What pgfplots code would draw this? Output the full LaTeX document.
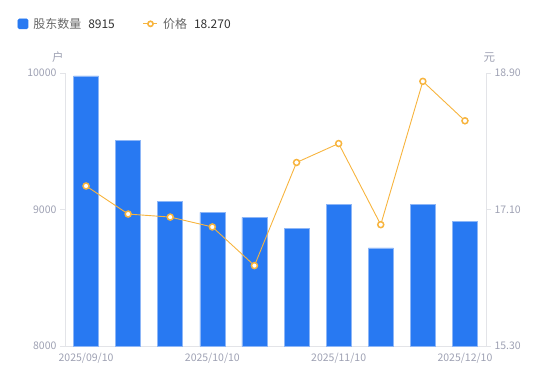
\documentclass[border=0pt]{standalone}
\usepackage{pgfplots}
\pgfplotsset{compat=1.18}
\usepackage{fontspec}
\setmainfont{Noto Sans CJK SC}
\definecolor{barblue}{HTML}{2879F2}
\definecolor{baredge}{HTML}{8DB6F7}
\definecolor{lineorange}{HTML}{F7B43E}
\definecolor{tickgray}{HTML}{9EA1B3}
\definecolor{axisgray}{HTML}{E3E4E8}
\definecolor{legname}{HTML}{666666}
\definecolor{legval}{HTML}{333333}
\begin{document}
\begin{tikzpicture}
\path[use as bounding box] (0,0) rectangle (550bp,381bp);
\pgfplotsset{
  common/.style={
    at={(65bp,35bp)}, anchor=south west,
    scale only axis, width=421bp, height=273bp,
    xmin=-0.5, xmax=9.5,
    axis line style={draw=axisgray, line width=0.8bp},
    tick align=outside, major tick length=5bp,
    ytick style={draw=axisgray, line width=0.8bp},
    xtick style={draw=none},
    scaled ticks=false,
    tick label style={font=\fontsize{10.5bp}{12bp}\selectfont, text=tickgray},
    /pgf/number format/assume math mode=true,
    clip=false,
  }
}
\begin{axis}[common,
  axis y line*=left, axis x line*=bottom,
  ymin=8000, ymax=10000, ytick={8000,9000,10000},
  yticklabel style={/pgf/number format/1000 sep={}},
  xtick={0,3,6,9},
  xticklabels={2025/09/10,2025/10/10,2025/11/10,2025/12/10},
  xticklabel style={yshift=1bp},
  legend style={at={(-0.12,1.18)}, anchor=west, draw=none, fill=none,
    font=\fontsize{12bp}{14bp}\selectfont, text=legname,
    legend columns=2,
    /tikz/every even column/.append style={column sep=26bp},
    /tikz/every odd column/.append style={column sep=3bp},
    legend cell align=left},
]
\addplot[ybar, bar width=25bp, fill=barblue, draw=baredge, line width=0.6bp,
  legend image code/.code={\fill[barblue, rounded corners=1.5bp] (0bp,-5bp) rectangle (10bp,5bp);}]
  coordinates {(0,9978) (1,9507) (2,9062) (3,8979) (4,8943) (5,8864) (6,9040) (7,8718) (8,9038) (9,8915)};
\addlegendentry{股东数量\hspace{7bp}{\color{legval}8915}}
\addlegendimage{legend image code/.code={\draw[lineorange, line width=1.2bp] (0bp,0bp) -- (14bp,0bp); \draw[lineorange, fill=white, line width=1.6bp] (7bp,0bp) circle (2.6bp);}}
\addlegendentry{价格\hspace{7bp}{\color{legval}18.270}}
\node[font=\fontsize{11.5bp}{13bp}\selectfont, text=tickgray] at (axis description cs:-0.017,1.058) {户};
\end{axis}
\begin{axis}[common,
  axis y line*=right, axis x line=none,
  ymin=15.3, ymax=18.9, ytick={15.3,17.1,18.9},
  yticklabel style={/pgf/number format/.cd, fixed, fixed zerofill, precision=2},
]
\addplot[lineorange, line width=0.9bp, mark=*, mark size=3bp,
  mark options={draw=lineorange, fill=white, line width=1.5bp}]
  coordinates {(0,17.41) (1,17.04) (2,17.00) (3,16.87) (4,16.36) (5,17.72) (6,17.97) (7,16.90) (8,18.79) (9,18.27)};
\node[font=\fontsize{11.5bp}{13bp}\selectfont, text=tickgray] at (axis description cs:1.008,1.058) {元};
\end{axis}
\end{tikzpicture}
\end{document}
